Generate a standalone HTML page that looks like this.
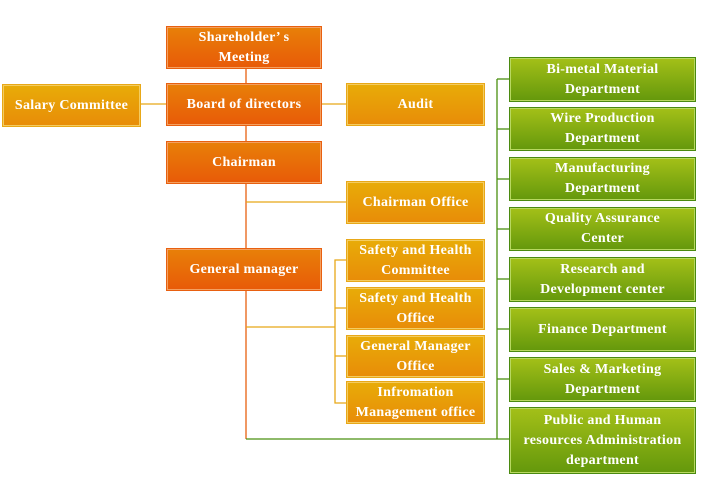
<!DOCTYPE html>
<html><head><meta charset="utf-8"><style>
body{margin:0;width:716px;height:491px;background:#fff;position:relative;overflow:hidden;font-family:"Liberation Serif",serif;}
.b{position:absolute;box-sizing:border-box;display:flex;align-items:center;justify-content:center;text-align:center;color:#fff;font-weight:bold;font-size:14px;line-height:20px;letter-spacing:0.3px;}
.r{background:linear-gradient(#e88008,#e85a08);border:1px solid #e86010;box-shadow:inset 0 0 0 1px #f4a060;}
.o{background:linear-gradient(#e8ac08,#e88c08);border:1px solid #e8a818;box-shadow:inset 0 0 0 1px #f4cc60;}
.g{background:linear-gradient(#a4c018,#64980c);border:1px solid #4a8a10;box-shadow:inset 0 0 0 1px #b8d860;}
svg{position:absolute;left:0;top:0}
</style></head><body>
<svg width="716" height="491">
<g stroke-width="1.3" fill="none">
<line x1="246" y1="68" x2="246" y2="83" stroke="#e86010"/>
<line x1="246" y1="125" x2="246" y2="141" stroke="#e86010"/>
<line x1="246" y1="183" x2="246" y2="248" stroke="#e86010"/>
<line x1="246" y1="290" x2="246" y2="439" stroke="#e86010"/>
<line x1="140" y1="104" x2="166" y2="104" stroke="#e8a818"/>
<line x1="321" y1="104" x2="346" y2="104" stroke="#e8a818"/>
<line x1="246" y1="202" x2="346" y2="202" stroke="#e8a818"/>
<line x1="246" y1="327" x2="335" y2="327" stroke="#e8a818"/>
<polyline points="346,260 335,260 335,403 346,403" stroke="#e8a818"/>
<line x1="335" y1="308" x2="346" y2="308" stroke="#e8a818"/>
<line x1="335" y1="356" x2="346" y2="356" stroke="#e8a818"/>
<line x1="246" y1="439" x2="509" y2="439" stroke="#4a9010"/>
<line x1="497" y1="79" x2="497" y2="439" stroke="#4a9010"/>
<line x1="497" y1="79" x2="509" y2="79" stroke="#4a9010"/>
<line x1="497" y1="129" x2="509" y2="129" stroke="#4a9010"/>
<line x1="497" y1="179" x2="509" y2="179" stroke="#4a9010"/>
<line x1="497" y1="229" x2="509" y2="229" stroke="#4a9010"/>
<line x1="497" y1="279" x2="509" y2="279" stroke="#4a9010"/>
<line x1="497" y1="329" x2="509" y2="329" stroke="#4a9010"/>
<line x1="497" y1="379" x2="509" y2="379" stroke="#4a9010"/>
</g></svg>
<div class="b r" style="left:166px;top:26px;width:156px;height:43px">Shareholder’ s<br>Meeting</div>
<div class="b r" style="left:166px;top:83px;width:156px;height:43px">Board of directors</div>
<div class="b r" style="left:166px;top:141px;width:156px;height:43px">Chairman</div>
<div class="b r" style="left:166px;top:248px;width:156px;height:43px">General manager</div>
<div class="b o" style="left:2px;top:84px;width:139px;height:43px">Salary Committee</div>
<div class="b o" style="left:346px;top:83px;width:139px;height:43px">Audit</div>
<div class="b o" style="left:346px;top:181px;width:139px;height:43px">Chairman Office</div>
<div class="b o" style="left:346px;top:239px;width:139px;height:43px">Safety and Health<br>Committee</div>
<div class="b o" style="left:346px;top:287px;width:139px;height:43px">Safety and Health<br>Office</div>
<div class="b o" style="left:346px;top:335px;width:139px;height:43px">General Manager<br>Office</div>
<div class="b o" style="left:346px;top:381px;width:139px;height:43px">Infromation<br>Management office</div>
<div class="b g" style="left:509px;top:57px;width:187px;height:45px">Bi-metal Material<br>Department</div>
<div class="b g" style="left:509px;top:107px;width:187px;height:44px">Wire Production<br>Department</div>
<div class="b g" style="left:509px;top:157px;width:187px;height:44px">Manufacturing<br>Department</div>
<div class="b g" style="left:509px;top:207px;width:187px;height:44px">Quality Assurance<br>Center</div>
<div class="b g" style="left:509px;top:257px;width:187px;height:45px">Research and<br>Development center</div>
<div class="b g" style="left:509px;top:307px;width:187px;height:45px">Finance Department</div>
<div class="b g" style="left:509px;top:357px;width:187px;height:45px">Sales &amp; Marketing<br>Department</div>
<div class="b g" style="left:509px;top:407px;width:187px;height:67px">Public and Human<br>resources Administration<br>department</div>
</body></html>
